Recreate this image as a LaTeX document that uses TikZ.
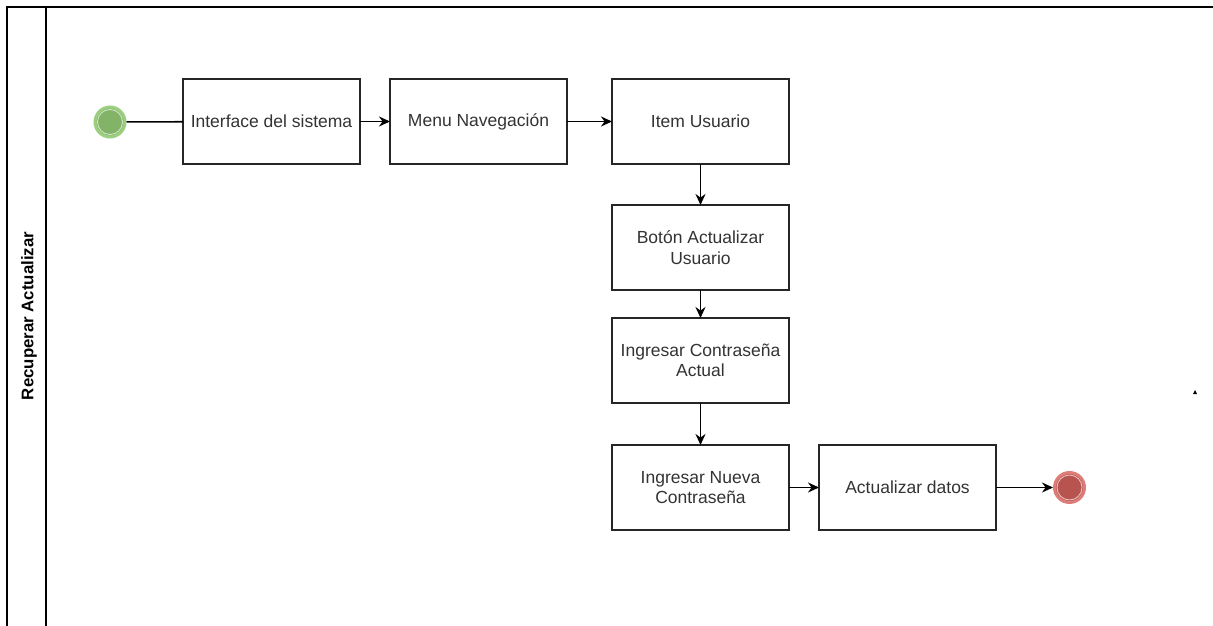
\documentclass[tikz,border=0pt]{standalone}
\usepackage{fontspec}
\setmainfont{Liberation Sans}
\usetikzlibrary{arrows.meta,positioning}

\definecolor{startfill}{HTML}{82B366}
\definecolor{startring}{HTML}{9BCF80}
\definecolor{endfill}{HTML}{B85450}
\definecolor{endring}{HTML}{E07C78}
\definecolor{txtgray}{HTML}{333333}

\begin{document}
\begin{tikzpicture}[x=1pt,y=-1pt,>={Stealth[length=11pt,width=10pt]},line width=1.5pt,node distance=30pt,
    every edge/.append style={line width=1.6pt},
    task/.style={draw=black!85,rectangle,minimum width=177pt,minimum height=85pt,align=center,outer sep=0pt,
                 text=txtgray,font=\fontsize{17.5}{20.5}\selectfont},
    event/.style={circle,minimum size=30pt,inner sep=0pt,line width=3pt}]
    \useasboundingbox (0,0) rectangle (1213,626);

    % pool and lane
    \draw (7,626) -- (7,7) -- (1213,7);
    \draw (46,7) -- (46,626);
    \node[rotate=90,font=\bfseries\fontsize{16.8}{20}\selectfont] (lane) at (29,316) {Recuperar Actualizar};

    \node[event, fill=startfill, draw=startring] (start) at (110,122) {};
    \draw[white, line width=0.8pt, opacity=0.7] (start.center) circle (12.5pt);

    \node[task] (1) at (271.5,121.5) {Interface del sistema};
    \node[task] (2) [right=30pt of 1] {Menu Navegación};
    \node[task] (3) [right=45pt of 2] {Item Usuario};
    \node[task] (4) [below=41pt of 3] {Botón Actualizar\\Usuario};
    \node[task] (5) [below=28pt of 4] {Ingresar Contraseña\\Actual};
    \node[task] (6) [below=42pt of 5] {Ingresar Nueva\\Contraseña};
    \node[task] (7) [right=30pt of 6] {Actualizar datos};

    \node[event, fill=endfill, draw=endring] (end) [right=57pt of 7] {};
    \draw[white, line width=0.8pt, opacity=0.7] (end.center) circle (12.5pt);

    \path (start) edge (1);
    \path[->] (1) edge (2);
    \path[->] (2) edge (3);
    \path[->] (3) edge (4);
    \path[->] (4) edge (5);
    \path[->] (5) edge (6);
    \path[->] (6) edge (7);
    \path[->] (7) edge (end);

    % stray mark
    \fill (1193,394) -- (1197,394) -- (1195,390) -- cycle;
\end{tikzpicture}
\end{document}
